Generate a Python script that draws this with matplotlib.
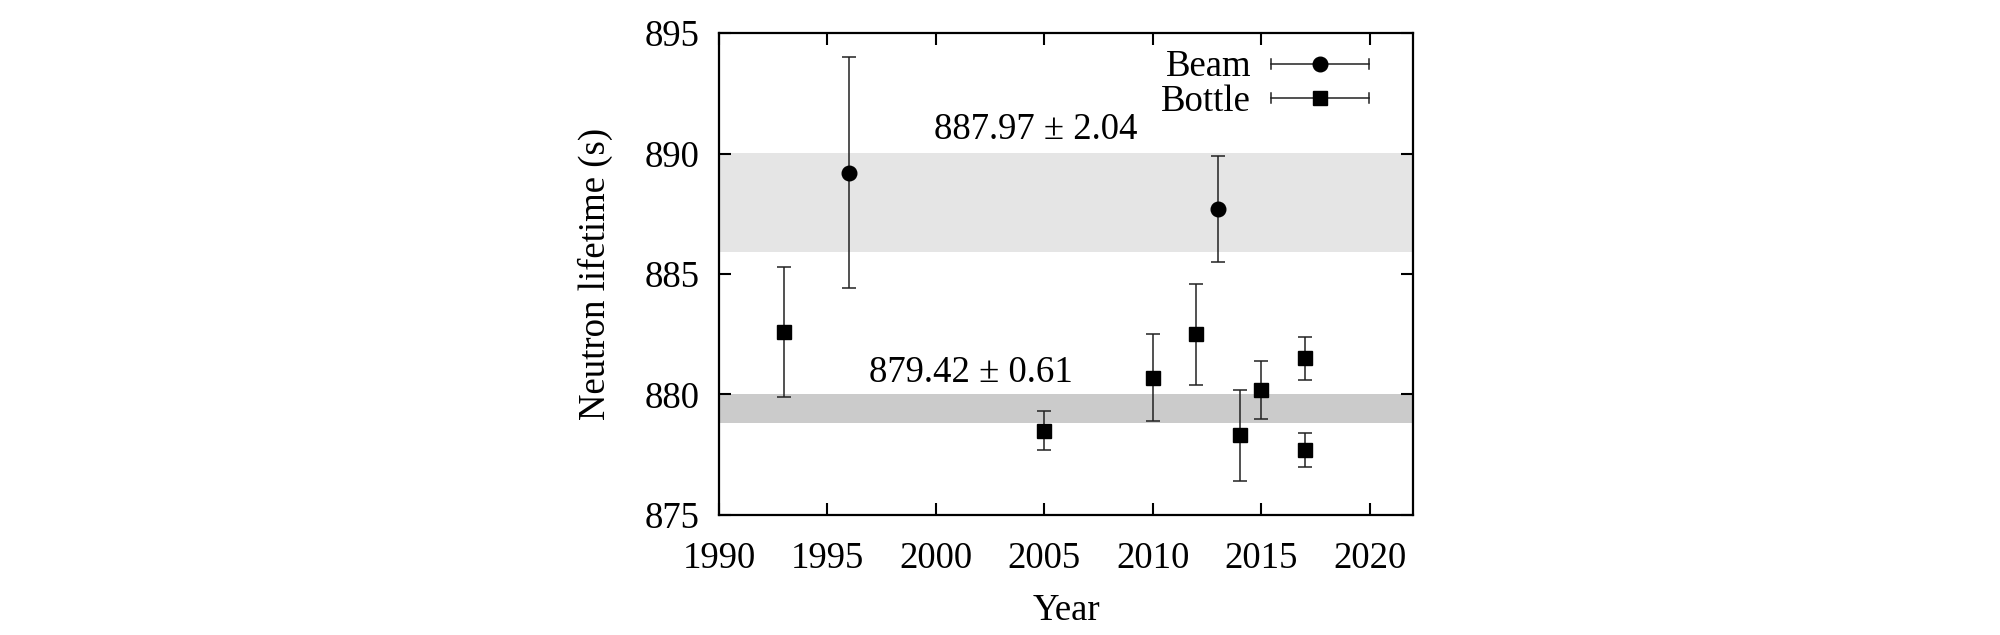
import matplotlib
matplotlib.use("Agg")
import matplotlib.pyplot as plt
from matplotlib.lines import Line2D
from matplotlib.legend_handler import HandlerBase

plt.rcParams['font.family'] = ['Liberation Serif', 'DejaVu Serif']
plt.rcParams['mathtext.fontset'] = 'stix'

# ---- data ----
beam_years = [1996, 2013]
beam_vals = [889.2, 887.7]
beam_errs = [4.8, 2.2]

bottle_years = [1993, 2005, 2010, 2012, 2014, 2015, 2017, 2017]
bottle_vals = [882.6, 878.5, 880.7, 882.5, 878.3, 880.2, 881.5, 877.7]
bottle_errs = [2.7, 0.8, 1.8, 2.1, 1.9, 1.2, 0.9, 0.7]

band_means = [887.97, 879.42]
band_errs = [2.04, 0.61]
band_colors = ['#e5e5e5', '#cbcbcb']

x_ticks = [1990, 1995, 2000, 2005, 2010, 2015, 2020]
y_ticks = [875, 880, 885, 890, 895]

FS = 26.5

fig = plt.figure(figsize=(20, 6.35), dpi=100)
ax = fig.add_axes([0.3595, 0.189, 0.347, 0.759])

for m, e, c in zip(band_means, band_errs, band_colors):
    ax.axhspan(m - e, m + e, color=c, lw=0, zorder=0)

eb_kw = dict(ls='none', ecolor='#222222', elinewidth=1.1, capsize=4.7,
             capthick=1.1, color='black', zorder=3)
ax.errorbar(beam_years, beam_vals, yerr=beam_errs, fmt='o', ms=10.5, **eb_kw)
ax.errorbar(bottle_years, bottle_vals, yerr=bottle_errs, fmt='s', ms=9.5, **eb_kw)

ax.text(2004.6, 891.0, f"{band_means[0]:.2f} ± {band_errs[0]:.2f}",
        ha='center', va='center', fontsize=FS)
ax.text(2001.6, 880.9, f"{band_means[1]:.2f} ± {band_errs[1]:.2f}",
        ha='center', va='center', fontsize=FS)

ax.set_xlim(1990, 2022)
ax.set_ylim(875, 895)
ax.set_xticks(x_ticks)
ax.set_yticks(y_ticks)
ax.tick_params(direction='in', length=8.5, width=1.5, top=True, right=True,
               labelsize=FS)
ax.tick_params(axis='x', pad=19)
ax.tick_params(axis='y', pad=14)
for s in ax.spines.values():
    s.set_linewidth(1.6)
ax.set_xlabel("Year", fontsize=FS, labelpad=13)
ax.set_ylabel("Neutron lifetime (s)", fontsize=FS, labelpad=23)


class HandlerHErr(HandlerBase):
    def __init__(self, marker, ms):
        super().__init__()
        self.marker = marker
        self.ms = ms

    def create_artists(self, legend, orig_handle, xdescent, ydescent, width,
                       height, fontsize, trans):
        y = height / 2 - ydescent
        x0, x1 = -xdescent, width - xdescent
        c = 3.6
        arts = [
            Line2D([x0, x1], [y, y], color='#222222', lw=1.1),
            Line2D([x0, x0], [y - c, y + c], color='#222222', lw=1.1),
            Line2D([x1, x1], [y - c, y + c], color='#222222', lw=1.1),
            Line2D([(x0 + x1) / 2], [y], marker=self.marker, ms=self.ms,
                   color='black', ls='none'),
        ]
        for a in arts:
            a.set_transform(trans)
        return arts


h_beam = Line2D([], [], marker='o')
h_bottle = Line2D([], [], marker='s')
ax.legend([h_beam, h_bottle], ["Beam", "Bottle"],
          handler_map={h_beam: HandlerHErr('o', 10.5), h_bottle: HandlerHErr('s', 9.5)},
          loc='upper right', bbox_to_anchor=(0.9366, 0.965), frameon=False,
          markerfirst=False, fontsize=FS, handlelength=2.65, handletextpad=0.55,
          labelspacing=0.0, borderpad=0, borderaxespad=0)

fig.savefig("out.png", dpi=100)
